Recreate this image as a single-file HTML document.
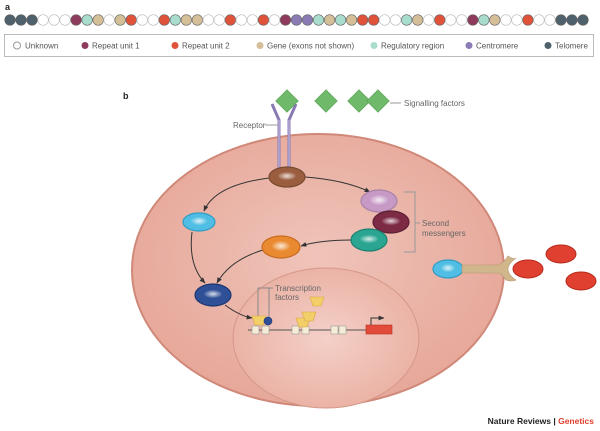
<!DOCTYPE html>
<html><head><meta charset="utf-8"><style>
html,body{margin:0;padding:0;background:#fff;}
svg{display:block;font-family:"Liberation Sans",sans-serif;}
</style></head><body>
<svg width="600" height="431" viewBox="0 0 600 431" xmlns="http://www.w3.org/2000/svg">
<defs>
<radialGradient id="cell" cx="50%" cy="45%" r="60%"><stop offset="0" stop-color="#f0c4ba"/><stop offset="1" stop-color="#e5a596"/></radialGradient>
<radialGradient id="nuc" cx="50%" cy="50%" r="60%"><stop offset="0" stop-color="#f4d0c8"/><stop offset="1" stop-color="#e9ad9f"/></radialGradient>
<radialGradient id="g" cx="50%" cy="50%" r="55%"><stop offset="0" stop-color="#fff" stop-opacity=".8"/><stop offset="1" stop-color="#fff" stop-opacity="0"/></radialGradient>
<marker id="ar" viewBox="0 0 10 10" refX="9" refY="5" markerWidth="6" markerHeight="6" orient="auto"><path d="M0,1 L10,5 L0,9 z" fill="#333"/></marker>
</defs>
<text x="5" y="10" font-size="9" font-weight="bold" fill="#222">a</text>
<g id="beads" stroke-width="0.8"></g>
<rect x="4.5" y="34.5" width="589" height="22" fill="#fff" stroke="#bbb"/>
<g font-size="8" fill="#555">
<circle cx="17" cy="45.5" r="3.5" fill="#fff" stroke="#999"/><text x="25" y="48.5">Unknown</text>
<circle cx="85" cy="45.5" r="3.5" fill="#8e3a5c"/><text x="92" y="48.5">Repeat unit 1</text>
<circle cx="175" cy="45.5" r="3.5" fill="#e0533a"/><text x="182" y="48.5">Repeat unit 2</text>
<circle cx="260" cy="45.5" r="3.5" fill="#d4bf98"/><text x="267" y="48.5">Gene (exons not shown)</text>
<circle cx="374" cy="45.5" r="3.5" fill="#a8dccd"/><text x="381" y="48.5">Regulatory region</text>
<circle cx="469" cy="45.5" r="3.5" fill="#8a7bb5"/><text x="476" y="48.5">Centromere</text>
<circle cx="548" cy="45.5" r="3.5" fill="#4f616c"/><text x="555" y="48.5">Telomere</text>
</g>
<text x="123" y="99" font-size="9" font-weight="bold" fill="#222">b</text>
<ellipse cx="318" cy="270" rx="186" ry="136" fill="url(#cell)" stroke="#d08878" stroke-width="2"/>
<ellipse cx="326" cy="338" rx="93" ry="70" fill="url(#nuc)" stroke="#d49888" stroke-width="1"/>
<g stroke="#8a7bb5" stroke-width="3" fill="none">
<path d="M279,170 V120 L272,104"/><path d="M289,170 V120 L296,104"/></g>
<g stroke="#c9c0e0" stroke-width="1" fill="none"><path d="M279,170 V120"/><path d="M289,170 V120"/></g>
<g fill="#6fba6a" stroke="#4d9a4a" stroke-width="0.5">
<rect x="279" y="93" width="16" height="16" transform="rotate(45 287 101)"/>
<rect x="318" y="93" width="16" height="16" transform="rotate(45 326 101)"/>
<rect x="351" y="93" width="16" height="16" transform="rotate(45 359 101)"/>
<rect x="370" y="93" width="16" height="16" transform="rotate(45 378 101)"/>
</g>
<g font-size="8" fill="#666">
<line x1="390" y1="103" x2="401" y2="103" stroke="#999"/><text x="404" y="106">Signalling factors</text>
<line x1="265" y1="125" x2="278" y2="125" stroke="#999"/><text x="233" y="128">Receptor</text>
<path d="M404,192 H415 V252 H404 M415,223 H420" stroke="#999" fill="none"/>
<text x="422" y="226">Second</text><text x="422" y="236">messengers</text>
<line x1="258" y1="288" x2="258" y2="318" stroke="#888"/><line x1="269" y1="288" x2="269" y2="318" stroke="#888"/>
<line x1="258" y1="288" x2="273" y2="288" stroke="#888"/>
<text x="275" y="291">Transcription</text><text x="275" y="300">factors</text>
</g>
<g stroke="#333" stroke-width="1" fill="none" marker-end="url(#ar)">
<path d="M305,177 Q345,180 370,192"/>
<path d="M269,178 Q215,185 204,211"/>
<path d="M192,232 Q188,265 205,283"/>
<path d="M352,240 Q320,240 301,246"/>
<path d="M263,250 Q230,260 217,283"/>
<path d="M225,305 Q240,316 252,318"/>
</g>
<g stroke-width="1.2">
<ellipse cx="287" cy="177" rx="18" ry="10" fill="#9a5d3e" stroke="#7a4a30"/>
<ellipse cx="379" cy="201" rx="18" ry="11" fill="#c79ac6" stroke="#a880a8"/>
<ellipse cx="391" cy="222" rx="18" ry="11" fill="#7d2a45" stroke="#5c1f33"/>
<ellipse cx="369" cy="240" rx="18" ry="11" fill="#2aa592" stroke="#1c8070"/>
<ellipse cx="281" cy="247" rx="19" ry="11" fill="#e98a30" stroke="#c86a20"/>
<ellipse cx="199" cy="222" rx="16" ry="9" fill="#4fbde4" stroke="#2f9cc4"/>
<ellipse cx="213" cy="295" rx="18" ry="11" fill="#2f4f96" stroke="#1c3670"/>
<ellipse cx="448" cy="269" rx="15" ry="9" fill="#4fbde4" stroke="#2f9cc4"/>
</g>
<g fill="url(#g)">
<ellipse cx="287" cy="176" rx="9" ry="4"/><ellipse cx="379" cy="200" rx="9" ry="5"/><ellipse cx="391" cy="221" rx="9" ry="4"/><ellipse cx="369" cy="239" rx="9" ry="4"/><ellipse cx="281" cy="246" rx="9" ry="5"/><ellipse cx="199" cy="221" rx="8" ry="4"/><ellipse cx="213" cy="294" rx="9" ry="4"/><ellipse cx="448" cy="268" rx="7" ry="4"/>
</g>
<path d="M462,265 H498 Q505,262 508,256 Q514,260 516,258 Q508,264 508,269 Q508,275 516,280 Q512,282 506,280 Q502,274 498,273 H462 z" fill="#d1b68c" stroke="#b39670" stroke-width="0.6"/>
<g fill="#e0402f" stroke="#b82a1c" stroke-width="1">
<ellipse cx="528" cy="269" rx="15" ry="9"/><ellipse cx="561" cy="254" rx="15" ry="9"/><ellipse cx="581" cy="281" rx="15" ry="9"/></g>
<line x1="248" y1="330" x2="392" y2="330" stroke="#555" stroke-width="1"/>
<g fill="#f5edd8" stroke="#999" stroke-width="0.6">
<rect x="252" y="326" width="7" height="8"/><rect x="262" y="326" width="7" height="8"/>
<rect x="292" y="326" width="7" height="8"/><rect x="302" y="326" width="7" height="8"/>
<rect x="331" y="326" width="7" height="8"/><rect x="339" y="326" width="7" height="8"/>
</g>
<rect x="366" y="325" width="26" height="9" fill="#e24a3a" stroke="#b83020" stroke-width="0.6"/>
<path d="M371,325 V318 H384" stroke="#333" fill="none" marker-end="url(#ar)"/>
<g fill="#f3cf6a" stroke="#d9a83a" stroke-width="0.6">
<path d="M252,316 H266 L263,325 H255 z"/><path d="M310,297 H324 L321,306 H313 z"/>
<path d="M296,318 H310 L307,327 H299 z"/><path d="M302,312 H316 L313,321 H305 z"/>
</g>
<circle cx="268" cy="321" r="4" fill="#2f4f96" stroke="#1c3670" stroke-width="0.6"/>
<text x="594" y="424" font-size="8.5" font-weight="bold" text-anchor="end" fill="#222">Nature Reviews | <tspan fill="#e0402f">Genetics</tspan></text>
</svg>
<script>
var seq="TTTUUU1RGUG2UU2RGGUU2UU2U1CCRGRG22UURGU2UU1RGUU2UUTTT";
var col={T:"#4f616c",U:"#fff",1:"#8e3a5c",2:"#e0533a",G:"#d4bf98",R:"#a8dccd",C:"#8a7bb5"};
var g=document.getElementById("beads"),s="";
for(var i=0;i<seq.length;i++){var c=seq[i];var x=10+i*(573/(seq.length-1));
s+='<circle cx="'+x+'" cy="20" r="5.3" fill="'+col[c]+'" stroke="'+(c=="U"?"#bbb":"#666")+'" stroke-width="0.6"/>';}
g.innerHTML=s;
</script>
</body></html>
